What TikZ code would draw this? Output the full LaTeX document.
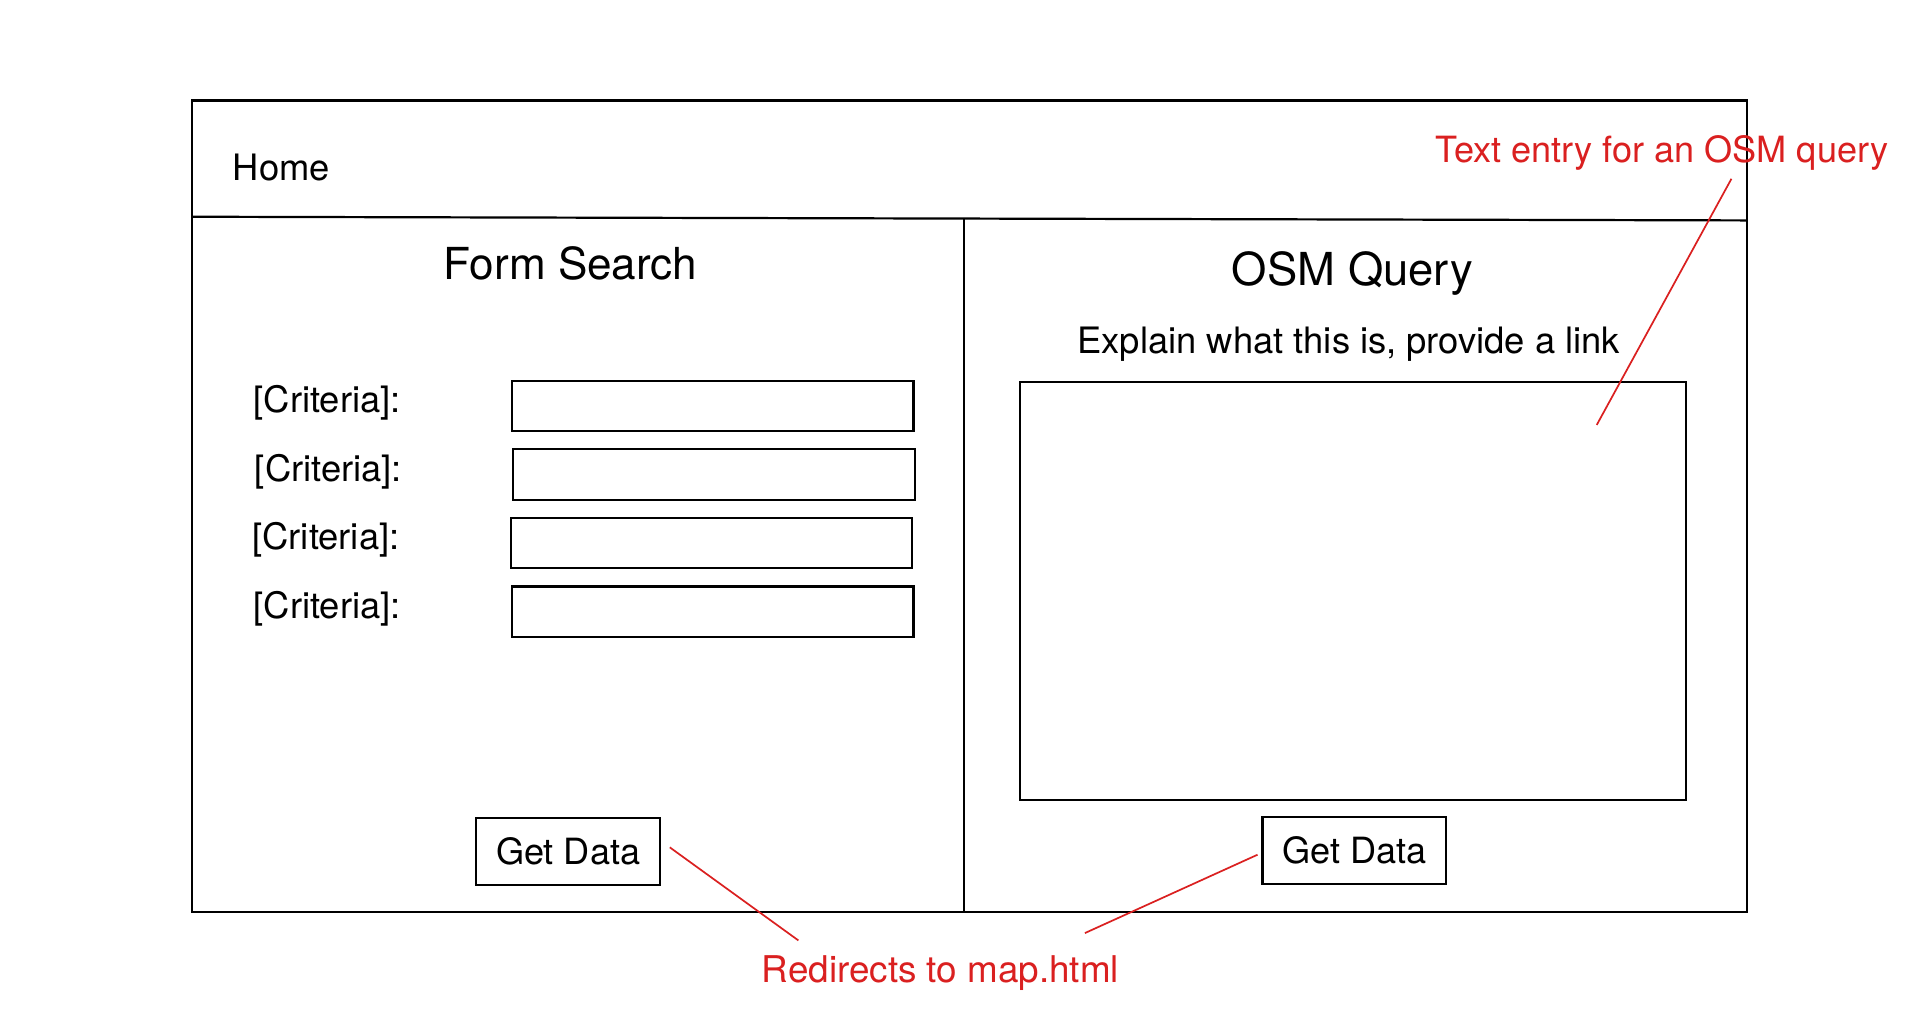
\documentclass[tikz,border=0pt]{standalone}
\usepackage{fontspec}
\setmainfont{TeX Gyre Heros}
\usepackage{xcolor}
\usepackage{tikz}
\usetikzlibrary{calc, positioning}
\definecolor{annot}{RGB}{218,32,32}

\begin{document}
\begin{tikzpicture}[
            x=1pt, y=-1pt,
            frame/.style={line width=1.8pt, black},
            field/.style={rectangle, draw, line width=1.8pt, minimum width=328pt, minimum height=41pt, inner sep=0pt},
            button/.style={rectangle, draw, line width=1.8pt, minimum width=150pt, minimum height=55pt, inner sep=0pt, font=\fontsize{29.5}{35}\selectfont},
            txt/.style={inner sep=0pt, font=\fontsize{29.7}{35}\selectfont},
            title/.style={inner sep=0pt, font=\fontsize{36}{42}\selectfont},
            note/.style={inner sep=0pt, text=annot, font=\fontsize{29.5}{35}\selectfont},
            link/.style={-, annot, line width=1.4pt}
        ]
        \useasboundingbox (0,0) rectangle (1568,838.7);

        % Page frame (manual layout to match figure)
        \draw[frame] (157,82) rectangle (1427,745);
        \draw[frame] (157,177) -- (1427,180);
        \draw[frame] (787,179) -- (787,745);

        % Header and titles
        \node[txt, anchor=base west] (home) at (190,147) {Home};
        \node[title, anchor=base] (form) at (466,228) {Form Search};
        \node[title, anchor=base, font=\fontsize{37.1}{42}\selectfont] (osm) at (1104.5,233) {OSM Query};
        \node[txt, anchor=base] (explain) at (1101.5,289) {Explain what this is, provide a link};

        % Form fields
        \node[txt, anchor=base west] (crit1) at (207,337) {[Criteria]:};
        \node[txt, anchor=base west] (crit2) at (208,393) {[Criteria]:};
        \node[txt, anchor=base west] (crit3) at (206,449) {[Criteria]:};
        \node[txt, anchor=base west] (crit4) at (207,505) {[Criteria]:};

        \node[field] (field1) at (582,331.5) {};
        \node[field] (field2) at (583,387.5) {};
        \node[field] (field3) at (581,443.5) {};
        \node[field] (field4) at (582,499.5) {};

        % Query box and buttons
        \node[rectangle, draw, line width=1.8pt, minimum width=544pt, minimum height=341pt, inner sep=0pt] (query) at (1105,482.5) {};
        \node[button] (getL) at (464,695.5) {Get Data};
        \node[button] (getR) at (1106,694.5) {Get Data};

        % Annotations
        \node[note, anchor=base west] (entry) at (1172,133) {Text entry for an OSM query};
        \node[note, anchor=base, font=\fontsize{30.1}{35}\selectfont] (redirect) at (768,802) {Redirects to map.html};

        \coordinate (entryEnd) at (1414,146);
        \coordinate (queryEnd) at (1304,347);
        \coordinate (getLEnd) at (547,692);
        \coordinate (redirL) at (652,768);
        \coordinate (getREnd) at (1027,698);
        \coordinate (redirR) at (886,762);

        \draw[link] (entryEnd) -- (queryEnd);
        \draw[link] (getLEnd) -- (redirL);
        \draw[link] (getREnd) -- (redirR);

    \end{tikzpicture}
\end{document}
